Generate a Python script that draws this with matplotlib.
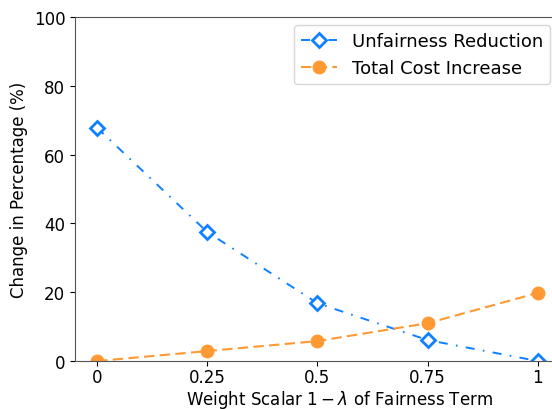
import matplotlib
matplotlib.use("Agg")
import matplotlib.pyplot as plt

plt.rcParams["lines.scale_dashes"] = False

weights = [0, 0.25, 0.5, 0.75, 1]
weight_labels = ["0", "0.25", "0.5", "0.75", "1"]
unfairness_reduction = [67.8, 37.5, 16.8, 6.1, 0.0]
total_cost_increase = [0.0, 2.9, 5.8, 11.0, 19.8]

fig = plt.figure(figsize=(5.52, 4.10), dpi=100)
ax = fig.add_axes([0.136, 0.117, 0.958, 0.839])

blue = "#0f80ff"
orange = "#ff9933"
ax.plot(weights, unfairness_reduction, color=blue, marker="D",
        dashes=(6.5, 6, 1.2, 6),
        markersize=7, markerfacecolor="white", markeredgecolor=blue,
        markeredgewidth=2, linewidth=1.4, label="Unfairness Reduction")
ax.plot(weights, total_cost_increase, color=orange, marker="o",
        dashes=(7.5, 3.8),
        markersize=9, linewidth=1.5, label="Total Cost Increase")

ax.set_xlim(-0.05, 1.15)
ax.set_ylim(0, 100)
ax.set_xticks(weights)
ax.set_xticklabels(weight_labels)
ax.set_yticks([0, 20, 40, 60, 80, 100])
ax.tick_params(labelsize=12)
ax.tick_params(axis="x", pad=1.5)
for s in ax.spines.values():
    s.set_color("#555555")
ax.spines["right"].set_visible(False)
ax.set_xlabel(r"Weight Scalar $1-\lambda$ of Fairness Term", fontsize=12, labelpad=1.5)
ax.set_ylabel("Change in Percentage (%)", fontsize=12)
ax.legend(loc="upper right", bbox_to_anchor=(0.997, 0.937),
          bbox_transform=fig.transFigure, borderaxespad=0, fontsize=13)

fig.savefig("out.png", dpi=100)
